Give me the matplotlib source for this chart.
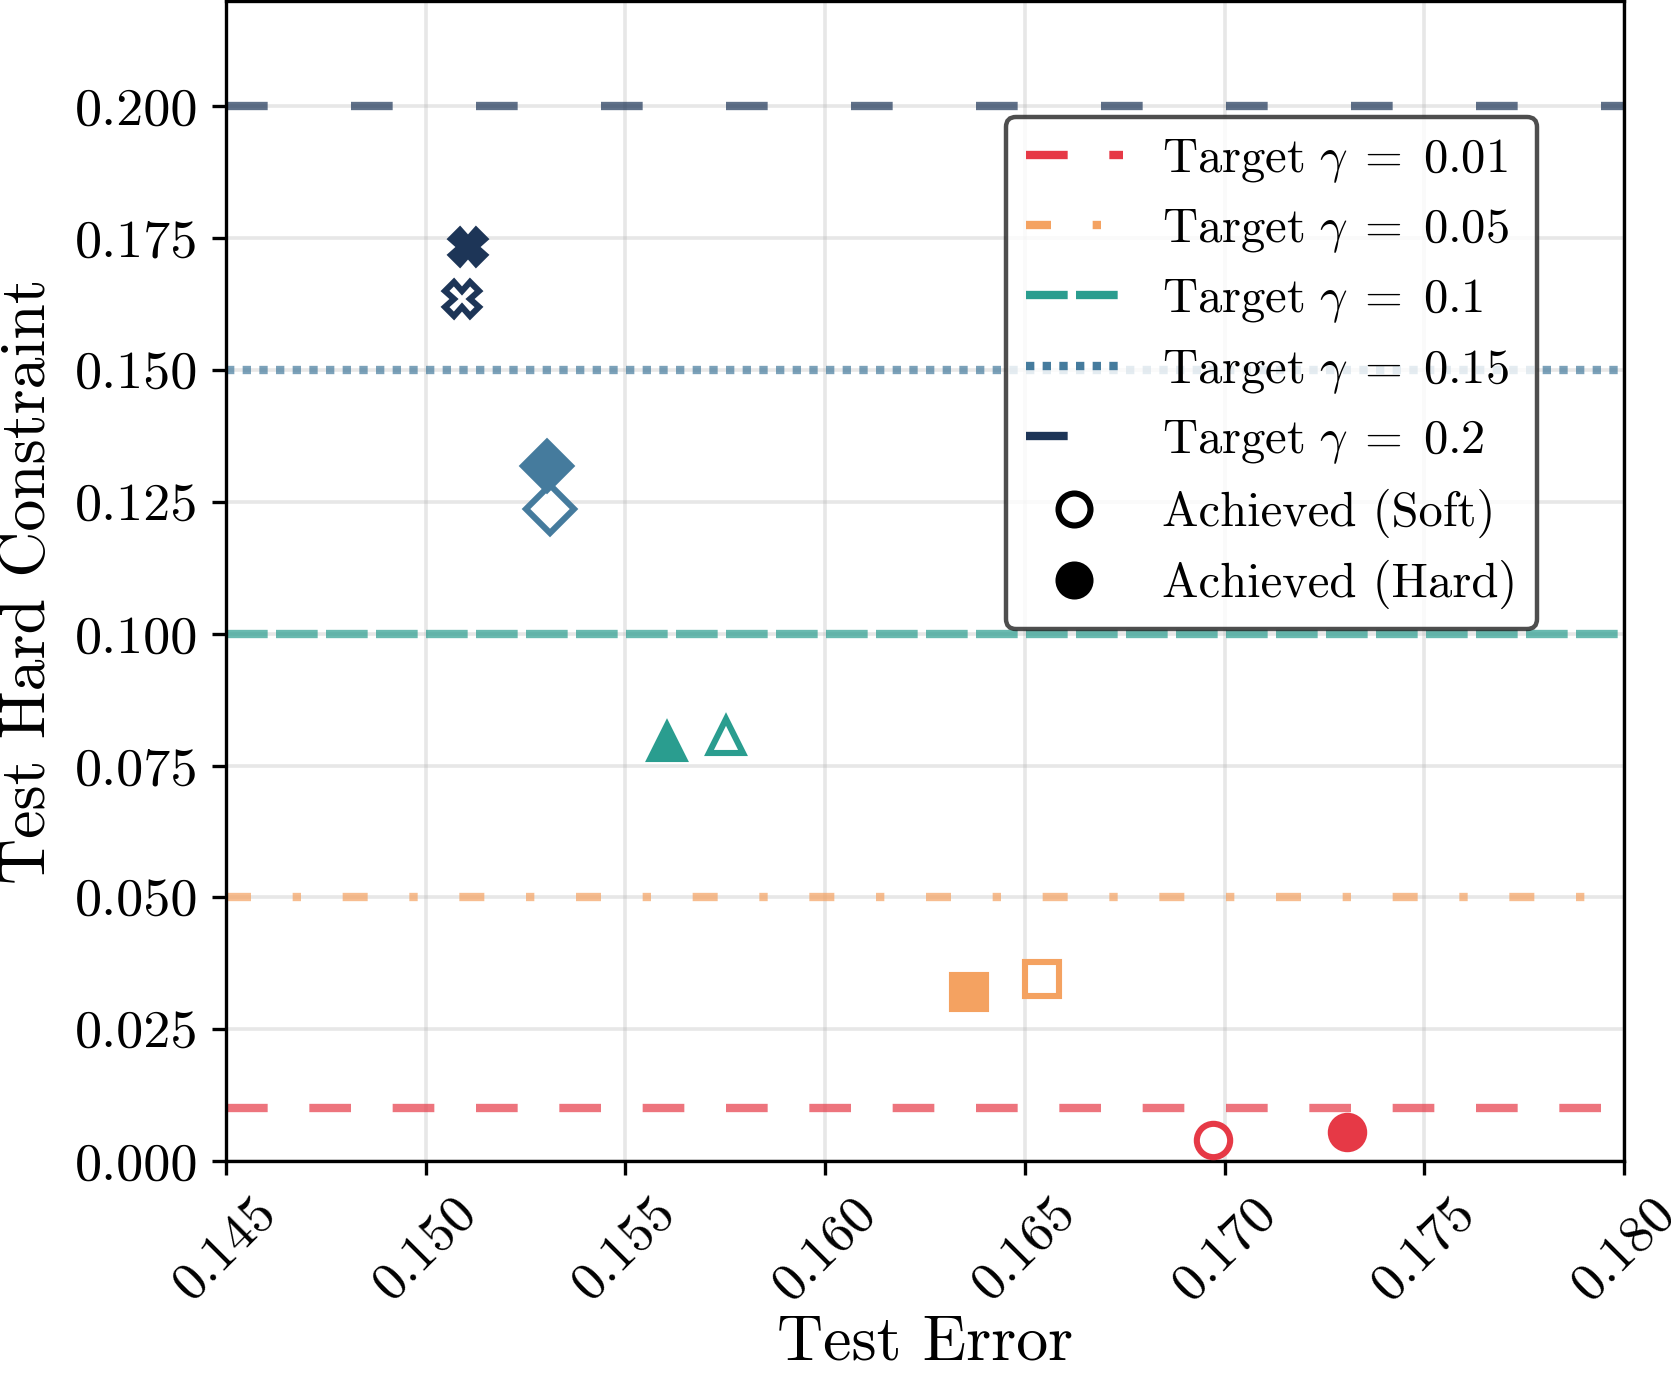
import numpy as np

import matplotlib
matplotlib.use("Agg")
import matplotlib.pyplot as plt  # noqa
from matplotlib.lines import Line2D  # noqa
from matplotlib.ticker import FormatStrFormatter  # noqa

plt.rcParams['font.family'] = 'serif'
plt.rcParams['font.serif'] = ['cmr10']
plt.rcParams['mathtext.fontset'] = 'cm'
plt.rcParams['axes.formatter.use_mathtext'] = True
plt.rcParams['axes.unicode_minus'] = False

# target constraint levels and their styles
gammas = [0.01, 0.05, 0.1, 0.15, 0.2]
colors = ['#E63946', '#F4A261', '#2A9D8F', '#457B9D', '#1D3557']
markers = ['o', 's', '^', 'D', 'X']
linestyles = [(0, (5, 5)), (0, (3, 5, 1, 5)), (0, (5, 1)),
              (0, (1, 1)), (0, (5, 10))]

# achieved values, soft and hard constrained runs
soft_err = [0.16971, 0.16543, 0.15752, 0.15311, 0.15092]
soft_con = [0.0039, 0.0345, 0.0806, 0.1236, 0.1634]
hard_err = [0.17306, 0.16359, 0.15604, 0.15305, 0.15105]
hard_con = [0.0055, 0.0320, 0.0795, 0.1319, 0.1734]

xticks = [0.145, 0.150, 0.155, 0.160, 0.165, 0.170, 0.175, 0.180]
yticks = [0.0, 0.025, 0.05, 0.075, 0.1, 0.125, 0.15, 0.175, 0.2]


def plot_tradeoff(fname='out.png'):
    fig = plt.figure(figsize=(8.355, 6.865), dpi=200)
    ax = fig.add_subplot(111)
    fig.subplots_adjust(left=0.1352, right=0.9719, bottom=0.1544, top=0.9993)

    handles = []
    for g, c, ls in zip(gammas, colors, linestyles):
        ax.axhline(g, color=c, lw=3, ls=ls, alpha=0.7, zorder=1)
        handles.append(Line2D([0], [0], color=c, lw=3, ls=ls,
                              label=r'$\mathrm{Target}\ \gamma\;=\;%s$' % g))

    for i in range(len(gammas)):
        ax.plot(soft_err[i], soft_con[i], ls='', marker=markers[i], ms=12,
                mew=2.2, mec=colors[i], mfc='white', zorder=3)
        ax.plot(hard_err[i], hard_con[i], ls='', marker=markers[i], ms=12,
                mew=2.2, mec=colors[i], mfc=colors[i], zorder=3)

    handles.append(Line2D([0], [0], ls='', marker='o', ms=11.5, mew=2.2,
                          mec='black', mfc='white', label='Achieved (Soft)'))
    handles.append(Line2D([0], [0], ls='', marker='o', ms=11.5, mew=2.2,
                          mec='black', mfc='black', label='Achieved (Hard)'))

    ax.set_xlim(0.145, 0.180)
    ax.set_ylim(0.0, 0.22)
    ax.set_xticks(xticks)
    ax.set_yticks(yticks)
    ax.xaxis.set_major_formatter(FormatStrFormatter('%.3f'))
    ax.yaxis.set_major_formatter(FormatStrFormatter('%.3f'))
    ax.tick_params(labelsize=19.5, length=5, width=1.2, pad=5)
    plt.setp(ax.get_xticklabels(), rotation=45)
    for sp in ax.spines.values():
        sp.set_linewidth(1.2)
    ax.grid(True, color='#b0b0b0', alpha=0.3, lw=1.3, zorder=0)
    ax.set_axisbelow(True)

    ax.set_xlabel('Test Error', fontsize=23, labelpad=2)
    ax.set_ylabel('Test Hard Constraint', fontsize=23, labelpad=6)

    leg = ax.legend(handles=handles, loc='upper right',
                    bbox_to_anchor=(0.9375, 0.8997), borderaxespad=0,
                    fontsize=17.5, framealpha=0.8, edgecolor='#222222',
                    fancybox=True, labelspacing=0.46)
    leg.get_frame().set_linewidth(1.6)

    fig.savefig(fname, dpi=200)


if __name__ == "__main__":
    plot_tradeoff()
